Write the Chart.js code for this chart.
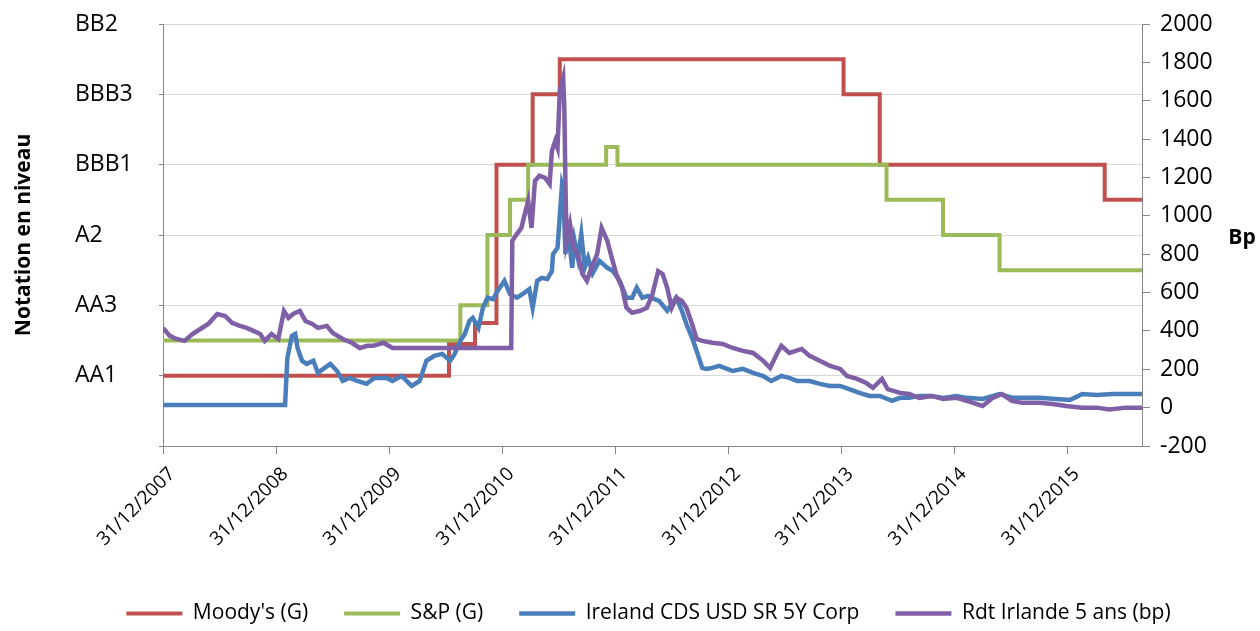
<!DOCTYPE html>
<html>
<head>
<meta charset="utf-8">
<script src="https://cdn.jsdelivr.net/npm/chart.js@4.4.1/dist/chart.umd.min.js"></script>
<style>
  html, body { margin: 0; padding: 0; background: #fff; }
  #wrap { width: 1260px; height: 631px; }
</style>
</head>
<body>
<div id="wrap"><canvas id="ratingsChart"></canvas></div>
<script>
// x values are years after 31/12/2007
const ratingTicks = ['', 'AA1', 'AA3', 'A2', 'BBB1', 'BBB3', 'BB2'];
const yearTicks = ['31/12/2007', '31/12/2008', '31/12/2009', '31/12/2010', '31/12/2011',
                   '31/12/2012', '31/12/2013', '31/12/2014', '31/12/2015'];

// rating level in notches (AA1 = 2, AA3 = 4, ... BB2 = 12)
const moodysT   = [0, 2.53, 2.76, 2.95, 3.27, 3.51, 6.02, 6.34, 8.33, 8.66];
const moodysLvl = [2, 2.9, 3.5, 8, 10, 11, 10, 8, 7, 7];

const spT   = [0, 2.63, 2.87, 3.07, 3.23, 3.92, 4.02, 6.40, 6.90, 7.40, 8.66];
const spLvl = [3, 4, 6, 7, 8, 8.5, 8, 7, 6, 5, 5];

const cdsT = [0, 1.08, 1.10, 1.14, 1.17, 1.19, 1.23, 1.27, 1.33, 1.37, 1.43, 1.48, 1.54, 1.59, 1.65,
  1.72, 1.80, 1.87, 1.98, 2.03, 2.11, 2.20, 2.27, 2.33, 2.40, 2.47, 2.54, 2.58, 2.63, 2.67, 2.71,
  2.74, 2.79, 2.83, 2.87, 2.92, 2.96, 3.02, 3.07, 3.13, 3.18, 3.24, 3.27, 3.31, 3.35, 3.40, 3.44,
  3.45, 3.49, 3.53, 3.54, 3.56, 3.58, 3.62, 3.64, 3.67, 3.70, 3.73, 3.76, 3.80, 3.86, 3.93, 3.98,
  4.04, 4.10, 4.15, 4.19, 4.24, 4.29, 4.35, 4.39, 4.46, 4.50, 4.54, 4.59, 4.63, 4.68, 4.72, 4.77,
  4.81, 4.86, 4.92, 4.99, 5.04, 5.13, 5.22, 5.31, 5.38, 5.47, 5.54, 5.61, 5.72, 5.81, 5.90, 5.99,
  6.07, 6.16, 6.25, 6.34, 6.45, 6.52, 6.60, 6.69, 6.80, 6.90, 7.02, 7.11, 7.25, 7.40, 7.52, 7.64,
  7.75, 7.90, 8.02, 8.08, 8.13, 8.26, 8.40, 8.66];
const cdsBp = [14, 14, 259, 374, 384, 311, 244, 228, 244, 181, 207, 228, 191, 139, 155,
  139, 124, 155, 155, 139, 165, 113, 139, 244, 270, 280, 244, 280, 348, 384, 452,
  468, 416, 521, 573, 566, 608, 661, 592, 573, 592, 618, 521, 661, 677, 671, 712,
  800, 834, 1166, 1146, 800, 937, 729, 870, 781, 905, 729, 781, 700, 765, 729, 712,
  661, 573, 573, 625, 573, 582, 566, 556, 505, 540, 573, 505, 436, 364, 296, 207,
  202, 207, 218, 202, 191, 202, 181, 165, 139, 165, 155, 139, 139, 124, 113, 113,
  97, 77, 61, 61, 35, 51, 51, 61, 61, 51, 61, 51, 45, 71, 51, 51,
  51, 45, 40, 56, 71, 66, 71, 71];

const rdtT = [0, 0.06, 0.12, 0.19, 0.26, 0.33, 0.40, 0.48, 0.55, 0.61, 0.68, 0.74, 0.80, 0.86, 0.90,
  0.96, 1.02, 1.07, 1.11, 1.15, 1.21, 1.26, 1.32, 1.37, 1.45, 1.50, 1.59, 1.67, 1.74, 1.81, 1.86,
  1.95, 2.03, 3.08, 3.09, 3.13, 3.17, 3.20, 3.23, 3.26, 3.29, 3.33, 3.38, 3.42, 3.44, 3.47, 3.49,
  3.51, 3.54, 3.55, 3.56, 3.57, 3.60, 3.63, 3.67, 3.71, 3.75, 3.79, 3.84, 3.88, 3.93, 3.97, 4.01,
  4.06, 4.10, 4.15, 4.22, 4.28, 4.33, 4.38, 4.42, 4.46, 4.50, 4.54, 4.59, 4.63, 4.68, 4.72, 4.77,
  4.86, 4.95, 5.04, 5.13, 5.22, 5.31, 5.37, 5.43, 5.47, 5.54, 5.65, 5.72, 5.81, 5.90, 5.99, 6.05,
  6.14, 6.22, 6.28, 6.36, 6.41, 6.52, 6.60, 6.69, 6.80, 6.90, 7.02, 7.11, 7.25, 7.34, 7.42, 7.51,
  7.60, 7.75, 7.87, 7.99, 8.13, 8.26, 8.37, 8.52, 8.66];
const rdtBp = [416, 374, 358, 348, 384, 410, 436, 488, 478, 442, 426, 416, 400, 384, 348,
  384, 358, 504, 468, 488, 504, 452, 436, 416, 426, 390, 358, 338, 311, 322, 322,
  338, 311, 311, 870, 905, 937, 1009, 1077, 937, 1182, 1209, 1198, 1166, 1338, 1391, 1355,
  1652, 1720, 1563, 1166, 870, 957, 834, 800, 696, 661, 729, 800, 937, 870, 781, 696,
  625, 521, 495, 505, 521, 592, 712, 696, 625, 521, 573, 556, 521, 436, 358, 348,
  338, 332, 311, 296, 285, 244, 207, 280, 322, 285, 306, 270, 244, 218, 202, 165,
  150, 129, 103, 150, 97, 77, 71, 51, 61, 45, 51, 35, 9, 51, 71, 35,
  25, 25, 19, 9, 0, 0, -10, 0, 0];

const toPoints = (xs, ys) => xs.map((x, i) => ({ x: x, y: ys[i] }));

Chart.defaults.font.family = '"Open Sans", sans-serif';
Chart.defaults.color = '#000';

// axis titles drawn beside the scales (right one stays horizontal)
const sideTitles = {
    id: 'sideTitles',
    afterDraw(chart) {
        const { ctx, chartArea } = chart;
        const midY = (chartArea.top + chartArea.bottom) / 2;
        ctx.save();
        ctx.fillStyle = '#000';
        ctx.font = 'bold 21px "Open Sans"';
        ctx.textAlign = 'center';
        ctx.textBaseline = 'middle';
        ctx.translate(24, midY);
        ctx.rotate(-Math.PI / 2);
        ctx.fillText('Notation en niveau', 0, 0);
        ctx.restore();
        ctx.save();
        ctx.fillStyle = '#000';
        ctx.font = 'bold 21px "Open Sans"';
        ctx.textAlign = 'center';
        ctx.textBaseline = 'middle';
        ctx.fillText('Bp', 1242, midY + 3);
        ctx.restore();
    }
};

const ctx = document.getElementById('ratingsChart').getContext('2d');
new Chart(ctx, {
    type: 'line',
    data: {
        datasets: [
            {
                label: "Moody's (G)",
                data: toPoints(moodysT, moodysLvl),
                yAxisID: 'y',
                borderColor: '#C0504D',
                backgroundColor: '#C0504D',
                borderWidth: 4,
                stepped: true,
                order: 4
            },
            {
                label: 'S&P (G)',
                data: toPoints(spT, spLvl),
                yAxisID: 'y',
                borderColor: '#9BBB59',
                backgroundColor: '#9BBB59',
                borderWidth: 4,
                stepped: true,
                order: 3
            },
            {
                label: 'Ireland CDS USD SR 5Y Corp',
                data: toPoints(cdsT, cdsBp),
                yAxisID: 'y1',
                borderColor: '#4A7EBB',
                backgroundColor: '#4A7EBB',
                borderWidth: 4.5,
                order: 2
            },
            {
                label: 'Rdt Irlande 5 ans (bp)',
                data: toPoints(rdtT, rdtBp),
                yAxisID: 'y1',
                borderColor: '#7F5FA5',
                backgroundColor: '#7F5FA5',
                borderWidth: 4.5,
                order: 1
            }
        ]
    },
    options: {
        responsive: true,
        maintainAspectRatio: false,
        animation: false,
        layout: { padding: { left: 75, right: 38, top: 24, bottom: -3 } },
        elements: { point: { radius: 0 }, line: { tension: 0 } },
        plugins: {
            tooltip: { enabled: false },
            legend: {
                position: 'bottom',
                labels: {
                    usePointStyle: true,
                    pointStyle: 'line',
                    pointStyleWidth: 56,
                    font: { size: 21 },
                    color: '#000',
                    padding: 36,
                    sort: (a, b) => a.datasetIndex - b.datasetIndex
                }
            }
        },
        scales: {
            x: {
                type: 'linear',
                min: 0,
                max: 8.66,
                ticks: {
                    stepSize: 1,
                    includeBounds: false,
                    autoSkip: false,
                    minRotation: 45,
                    maxRotation: 45,
                    font: { size: 19 },
                    color: '#000',
                    padding: 9,
                    labelOffset: 9,
                    callback: v => yearTicks[Math.round(v)]
                },
                grid: { drawOnChartArea: false, tickLength: 8, color: '#868686' },
                border: { color: '#868686' },
                afterFit: s => { s.height = 121; }
            },
            y: {
                position: 'left',
                min: 0,
                max: 12,
                ticks: {
                    stepSize: 2,
                    crossAlign: 'far',
                    font: { size: 23 },
                    color: '#000',
                    callback: v => ratingTicks[Math.round(v / 2)]
                },
                grid: { color: '#D9D9D9', tickColor: '#868686', tickLength: 4 },
                border: { color: '#868686' },
                afterFit: s => { s.width = 88; }
            },
            y1: {
                position: 'right',
                min: -200,
                max: 2000,
                ticks: {
                    stepSize: 200,
                    font: { size: 23 },
                    color: '#000',
                    padding: 10,
                    callback: v => String(v)
                },
                grid: { drawOnChartArea: false, tickLength: 8, color: '#868686' },
                border: { color: '#868686' },
                afterFit: s => { s.width = 80; }
            }
        }
    },
    plugins: [sideTitles]
});
</script>
</body>
</html>
